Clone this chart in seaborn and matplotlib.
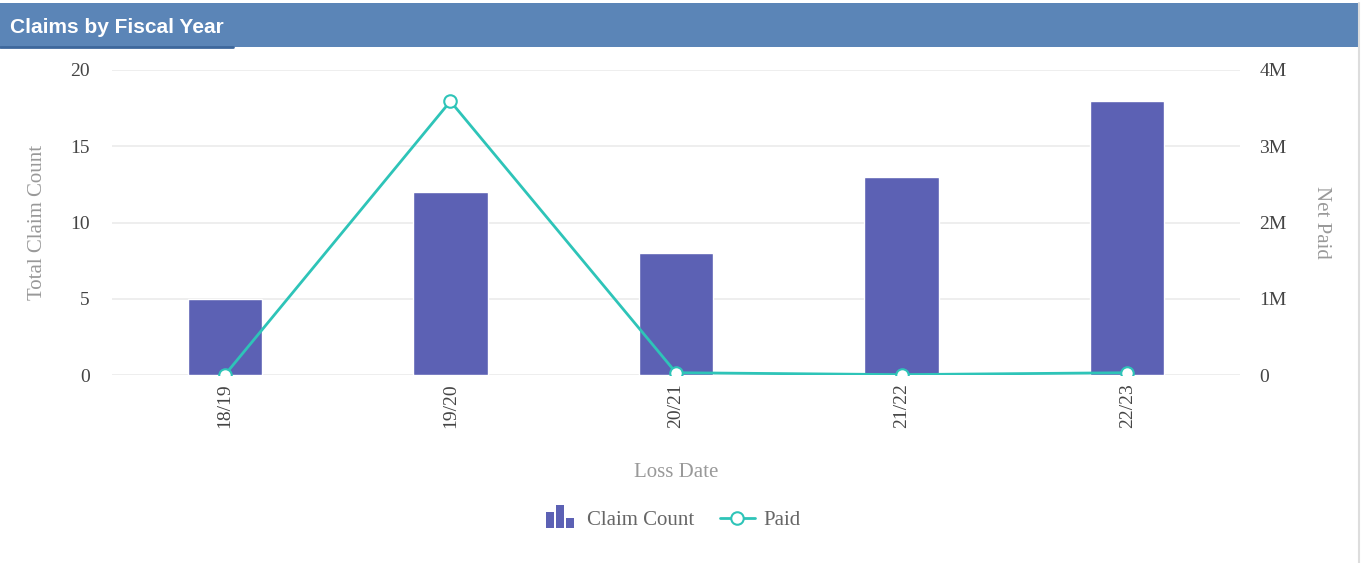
import numpy as np
import pandas as pd
import matplotlib
matplotlib.use("Agg")
import matplotlib.pyplot as plt
import seaborn as sns
from matplotlib.patches import Rectangle
from matplotlib.lines import Line2D
from matplotlib.legend_handler import HandlerBase
from matplotlib.ticker import FuncFormatter

# data
years = ["18/19", "19/20", "20/21", "21/22", "22/23"]
claim_count = [5, 12, 8, 13, 18]
net_paid = [0, 3590000, 30000, 5000, 30000]

bar_color = "#5c61b4"
line_color = "#2ec4b8"
header_color = "#5b85b7"

df = pd.DataFrame({"year": years, "count": claim_count, "paid": net_paid})

sns.set_theme(style="white")
plt.rcParams["font.family"] = ["Liberation Serif", "DejaVu Serif"]

fig = plt.figure(figsize=(13.62, 5.63), dpi=100)
ax = fig.add_axes([112 / 1362, 1 - 375 / 563, (1240 - 112) / 1362, (375 - 70) / 563])

sns.barplot(data=df, x="year", y="count", color=bar_color, width=0.33,
            saturation=1, ax=ax, zorder=2)
ax.set_xlim(-0.5, 4.5)
ax.set_ylim(0, 20)
ax.set_yticks([0, 5, 10, 15, 20])
ax.grid(axis="y", color="#ebebeb", linewidth=1.2, zorder=0)
ax.set_axisbelow(True)
for s in ax.spines.values():
    s.set_visible(False)
ax.tick_params(axis="both", length=0, labelsize=14, labelcolor="#444444")
ax.tick_params(axis="y", pad=16)
ax.tick_params(axis="x", pad=6)
plt.setp(ax.get_xticklabels(), rotation=90)
ax.set_xlabel("Loss Date", fontsize=15, color="#999999", labelpad=25)
ax.set_ylabel("Total Claim Count", fontsize=15, color="#999999", labelpad=17)

ax2 = ax.twinx()
sns.lineplot(x=np.arange(len(years)), y=df["paid"], ax=ax2, color=line_color,
             linewidth=2, marker="o", markersize=9, markerfacecolor="white",
             markeredgecolor=line_color, markeredgewidth=1.5, zorder=5)
ax2.set_ylim(0, 4000000)
ax2.set_yticks([0, 1000000, 2000000, 3000000, 4000000])
ax2.yaxis.set_major_formatter(FuncFormatter(lambda v, p: "0" if v == 0 else f"{v / 1e6:.0f}M"))
for s in ax2.spines.values():
    s.set_visible(False)
ax2.tick_params(axis="y", length=0, labelsize=14, labelcolor="#444444", pad=14)
ax2.set_ylabel("Net Paid", fontsize=15, color="#999999", rotation=270, labelpad=32)
ax2.set_xlim(-0.5, 4.5)


class BarIconHandler(HandlerBase):
    def create_artists(self, legend, orig_handle, xd, yd, width, height, fontsize, trans):
        arts = []
        w = width / 4.5
        for i, h in enumerate([0.75, 1.1, 0.5]):
            x0 = xd + 2 + i * (w + 1.5)
            r = Rectangle((x0, yd - 2), w, (height + 4) * h, facecolor=bar_color,
                          edgecolor="none", transform=trans)
            arts.append(r)
        return arts


bar_handle = Rectangle((0, 0), 1, 1, color=bar_color)
line_handle = Line2D([0], [0], color=line_color, linewidth=2, marker="o", markersize=9,
                     markerfacecolor="white", markeredgecolor=line_color, markeredgewidth=1.5)
leg = fig.legend([bar_handle, line_handle], ["Claim Count", "Paid"],
                 loc="center", bbox_to_anchor=(672 / 1362, 1 - 520 / 563), ncol=2,
                 frameon=False, fontsize=15, handlelength=1.7, handletextpad=0.4,
                 columnspacing=1.2, handler_map={Rectangle: BarIconHandler()})
for t in leg.get_texts():
    t.set_color("#666666")

# header band
fig.patches.append(Rectangle((0, 1 - 47 / 563), 1358 / 1362, 44 / 563, transform=fig.transFigure,
                             facecolor=header_color, edgecolor="none", zorder=0))
fig.lines.append(Line2D([0, 233 / 1362], [1 - 47 / 563, 1 - 47 / 563], transform=fig.transFigure,
                        color="#3d679c", linewidth=2))
fig.text(10 / 1362, 1 - 27.5 / 563, "Claims by Fiscal Year", color="white", fontsize=15,
         fontweight="bold", va="center", ha="left", family=["Liberation Sans", "DejaVu Sans"])
fig.lines.append(Line2D([1359 / 1362, 1359 / 1362], [0, 1 - 3 / 563], transform=fig.transFigure,
                        color="#dddddd", linewidth=1.5))

fig.savefig("out.png", dpi=100, facecolor="white")
